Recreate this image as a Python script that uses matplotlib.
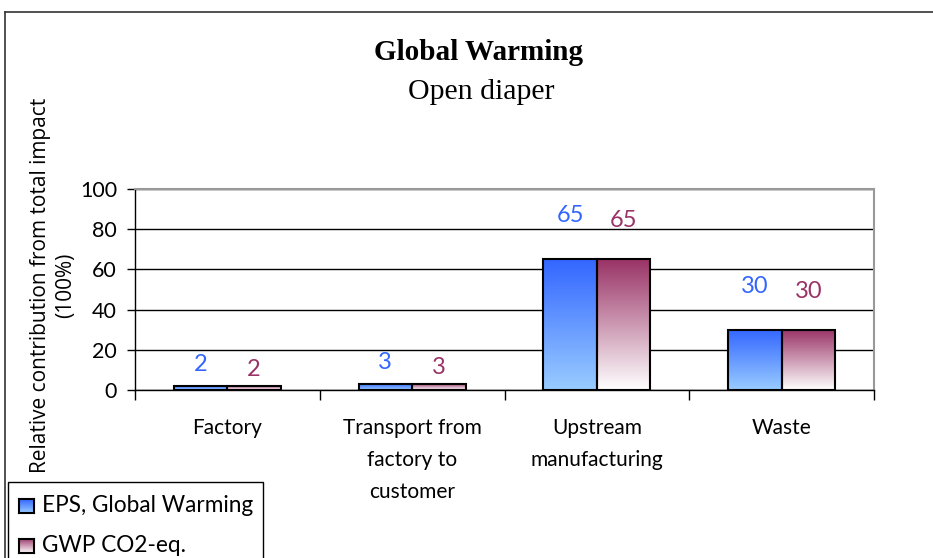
import numpy as np
import matplotlib.pyplot as plt
from matplotlib.colors import LinearSegmentedColormap
from matplotlib.lines import Line2D
from matplotlib.patches import Rectangle

categories = ["Factory", "Transport from\nfactory to\ncustomer",
              "Upstream\nmanufacturing", "Waste"]
eps_values = [2, 3, 65, 30]
gwp_values = [2, 3, 65, 30]
series_names = ["EPS, Global Warming", "GWP CO2-eq."]
y_ticks = [0, 20, 40, 60, 80, 100]

blue_cmap = LinearSegmentedColormap.from_list("blue", ["#99ccff", "#3366ff"])
red_cmap = LinearSegmentedColormap.from_list("red", ["#ffffff", "#993366"])
label_colors = ["#3366ff", "#993366"]
label_offsets = [21, 21, 44, 43]  # px above bar top

sans = ["Lato", "DejaVu Sans"]
serif = ["Liberation Serif", "DejaVu Serif"]
W, H = 933, 558

fig = plt.figure(figsize=(W / 100, H / 100), dpi=100)
ax = fig.add_axes([135 / W, 1 - 390 / H, (874 - 135) / W, (390 - 189) / H])

x = np.arange(len(categories))
bw = 0.29
grad = np.linspace(0, 1, 256).reshape(-1, 1)


def gradient_bars(xs, vals, cmap):
    for xi, v in zip(xs, vals):
        ax.imshow(grad, cmap=cmap, origin="lower", aspect="auto",
                  extent=(xi - bw / 2, xi + bw / 2, 0, v), zorder=2)
    ax.bar(xs, vals, bw, facecolor="none", edgecolor="black", lw=1.5, zorder=3)


gradient_bars(x - bw / 2, eps_values, blue_cmap)
gradient_bars(x + bw / 2, gwp_values, red_cmap)

# value labels, the second series sits a little lower
for i in range(len(categories)):
    for j, (vals, dx) in enumerate([(eps_values, -bw / 2), (gwp_values, bw / 2)]):
        off = label_offsets[i] - (0 if j == 0 else 5)
        ax.annotate(str(vals[i]), (x[i] + dx, vals[i]), xytext=(0, off * 0.72),
                    textcoords="offset points", ha="center", va="center",
                    color=label_colors[j], fontsize=17, family=sans)

ax.set_xlim(-0.5, len(categories) - 0.5)
ax.set_ylim(0, 100)
ax.set_yticks(y_ticks)
ax.set_yticklabels([str(t) for t in y_ticks], fontsize=15.5, family=sans)
ax.set_xticks(np.arange(-0.5, len(categories)), minor=False)
ax.set_xticklabels([])
ax.set_xticks(x, minor=True)
ax.set_xticklabels(categories, minor=True, fontsize=15, family=sans,
                   linespacing=1.75, va="top")
ax.tick_params(axis="x", which="minor", length=0, pad=20)
ax.tick_params(axis="x", which="major", length=7, width=1, direction="out")
ax.tick_params(axis="y", length=6, width=1, direction="out", pad=7)
ax.grid(axis="y", color="black", lw=1)
ax.set_axisbelow(True)

for side in ["top", "right"]:
    ax.spines[side].set_color("#999999")
    ax.spines[side].set_linewidth(1.5)
ax.spines["left"].set_linewidth(1)
ax.spines["bottom"].set_linewidth(1)

fig.text(479 / W, 1 - 53 / H, "Global Warming", ha="center", va="center",
         fontsize=21, fontweight="bold", family=serif)
fig.text(481 / W, 1 - 92 / H, "Open diaper", ha="center", va="center",
         fontsize=21.5, family=serif)
fig.text(53 / W, 1 - 285 / H, "Relative contribution from total impact\n(100%)",
         ha="center", va="center", rotation=90, fontsize=15,
         family=["Open Sans", "DejaVu Sans"], linespacing=1.25)

# outer frame
fig.add_artist(Line2D([5 / W, 5 / W], [0, 1 - 12 / H], color="#333333", lw=1.2))
fig.add_artist(Line2D([5 / W, 1], [1 - 12 / H, 1 - 12 / H], color="#333333", lw=1.2))

# legend box, running off the bottom edge
fig.add_artist(Rectangle((8 / W, -0.05), (263 - 8) / W, 0.05 + (558 - 482) / H,
                         transform=fig.transFigure, facecolor="white",
                         edgecolor="black", lw=1, zorder=-1))
for k, (name, cmap) in enumerate(zip(series_names, [blue_cmap, red_cmap])):
    yc = 506 + k * 40
    sax = fig.add_axes([19 / W, 1 - (yc + 7) / H, 15 / W, 14 / H])
    sax.imshow(grad, cmap=cmap, origin="lower", aspect="auto", extent=(0, 1, 0, 1))
    sax.set_xticks([])
    sax.set_yticks([])
    for s in sax.spines.values():
        s.set_linewidth(1.5)
    fig.text(42 / W, 1 - yc / H, name, ha="left", va="center", fontsize=16.3,
             family=sans)

fig.savefig("out.png", dpi=100)
